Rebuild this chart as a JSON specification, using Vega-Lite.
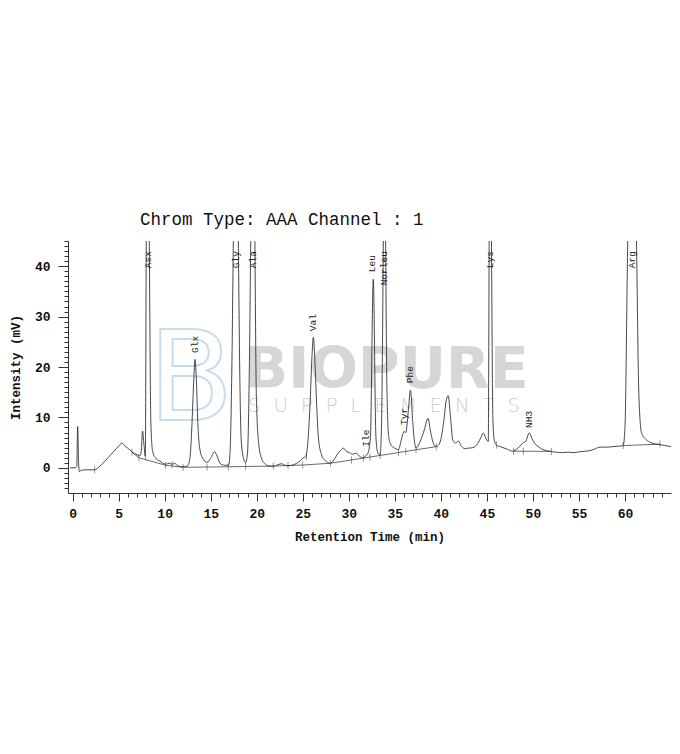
{
  "$schema": "https://vega.github.io/schema/vega-lite/v6.json",
  "width": 603,
  "height": 252,
  "autosize": {"type": "none"},
  "padding": {"left": 68, "top": 241, "right": 9, "bottom": 261},
  "background": "white",
  "title": {
    "text": "Chrom Type: AAA Channel : 1",
    "anchor": "start",
    "frame": "group",
    "dx": 72,
    "offset": 12,
    "font": "Liberation Mono",
    "fontSize": 17.5,
    "fontWeight": "normal",
    "color": "#111111"
  },
  "config": {
    "view": {"stroke": null},
    "axis": {"grid": false}
  },
  "datasets": {
    "trace": [
      {"t": -0.3, "v": 0.0}, {"t": 0.3, "v": 0.0}, {"t": 0.45, "v": 0.3}, {"t": 0.55, "v": 8.2}, {"t": 0.65, "v": 1.0},
      {"t": 0.75, "v": -0.8}, {"t": 0.9, "v": -0.5}, {"t": 1.5, "v": -0.4}, {"t": 2.4, "v": -0.4}, {"t": 3.0, "v": 0.4},
      {"t": 3.5, "v": 1.3}, {"t": 4.0, "v": 2.3}, {"t": 4.5, "v": 3.3}, {"t": 5.0, "v": 4.3}, {"t": 5.35, "v": 4.9},
      {"t": 5.7, "v": 4.3}, {"t": 6.2, "v": 3.6}, {"t": 6.5, "v": 3.1}, {"t": 7.0, "v": 2.6}, {"t": 7.3, "v": 2.4},
      {"t": 7.45, "v": 3.2}, {"t": 7.6, "v": 7.3}, {"t": 7.75, "v": 4.6}, {"t": 7.9, "v": 2.3}, {"t": 8.0, "v": 45},
      {"t": 8.17, "v": 80}, {"t": 8.33, "v": 45}, {"t": 8.5, "v": 9}, {"t": 8.7, "v": 3.2}, {"t": 9.0, "v": 2.0},
      {"t": 9.5, "v": 1.3}, {"t": 10.1, "v": 0.7}, {"t": 10.5, "v": 0.9}, {"t": 10.8, "v": 0.7}, {"t": 11.1, "v": 0.9},
      {"t": 11.4, "v": 0.4}, {"t": 12.0, "v": 0.2}, {"t": 12.5, "v": 0.4}, {"t": 12.75, "v": 2.0}, {"t": 12.95, "v": 8.0},
      {"t": 13.15, "v": 17.0}, {"t": 13.3, "v": 21.5}, {"t": 13.45, "v": 17.0}, {"t": 13.6, "v": 9.0}, {"t": 13.8, "v": 4.0},
      {"t": 14.1, "v": 2.0}, {"t": 14.6, "v": 1.1}, {"t": 15.0, "v": 1.9}, {"t": 15.4, "v": 3.2}, {"t": 15.7, "v": 2.3},
      {"t": 16.0, "v": 0.9}, {"t": 16.5, "v": 0.5}, {"t": 16.95, "v": 0.5}, {"t": 17.1, "v": 3}, {"t": 17.3, "v": 20},
      {"t": 17.46, "v": 45}, {"t": 17.73, "v": 80}, {"t": 18.0, "v": 45}, {"t": 18.15, "v": 20}, {"t": 18.3, "v": 6},
      {"t": 18.55, "v": 2}, {"t": 18.8, "v": 1.0}, {"t": 19.0, "v": 3}, {"t": 19.2, "v": 20}, {"t": 19.35, "v": 45},
      {"t": 19.57, "v": 80}, {"t": 19.8, "v": 45}, {"t": 19.95, "v": 15}, {"t": 20.2, "v": 5}, {"t": 20.5, "v": 2},
      {"t": 20.9, "v": 0.8}, {"t": 21.2, "v": 0.4}, {"t": 21.8, "v": 0.3}, {"t": 22.3, "v": 0.6}, {"t": 22.7, "v": 0.8},
      {"t": 23.1, "v": 0.5}, {"t": 23.4, "v": 0.4}, {"t": 24.0, "v": 0.6}, {"t": 24.6, "v": 1.2}, {"t": 25.0, "v": 1.9},
      {"t": 25.3, "v": 2.2}, {"t": 25.55, "v": 5}, {"t": 25.8, "v": 13}, {"t": 26.0, "v": 22}, {"t": 26.15, "v": 25.9},
      {"t": 26.3, "v": 22}, {"t": 26.5, "v": 13}, {"t": 26.7, "v": 6}, {"t": 27.0, "v": 2.8}, {"t": 27.4, "v": 1.5},
      {"t": 28.0, "v": 0.9}, {"t": 28.4, "v": 1.6}, {"t": 28.8, "v": 2.8}, {"t": 29.2, "v": 3.6}, {"t": 29.4, "v": 3.9},
      {"t": 29.8, "v": 3.2}, {"t": 30.1, "v": 3.0}, {"t": 30.4, "v": 2.7}, {"t": 30.8, "v": 2.9}, {"t": 31.1, "v": 2.4},
      {"t": 31.5, "v": 2.0}, {"t": 31.8, "v": 2.3}, {"t": 32.1, "v": 3.0}, {"t": 32.35, "v": 6}, {"t": 32.66, "v": 37.4},
      {"t": 32.95, "v": 6}, {"t": 33.15, "v": 3.0}, {"t": 33.4, "v": 2.5}, {"t": 33.55, "v": 8}, {"t": 33.75, "v": 45},
      {"t": 33.87, "v": 80}, {"t": 34.0, "v": 45}, {"t": 34.15, "v": 15}, {"t": 34.35, "v": 6}, {"t": 34.6, "v": 4.5},
      {"t": 34.9, "v": 4.0}, {"t": 35.4, "v": 3.6}, {"t": 35.7, "v": 5.5}, {"t": 36.0, "v": 7.2}, {"t": 36.2, "v": 7.0},
      {"t": 36.45, "v": 11}, {"t": 36.7, "v": 15.4}, {"t": 36.95, "v": 9}, {"t": 37.15, "v": 5}, {"t": 37.3, "v": 3.9},
      {"t": 37.7, "v": 5.0}, {"t": 38.2, "v": 7.5}, {"t": 38.6, "v": 9.8}, {"t": 38.9, "v": 7.0}, {"t": 39.2, "v": 4.8},
      {"t": 39.5, "v": 4.2}, {"t": 39.9, "v": 5.0}, {"t": 40.3, "v": 9}, {"t": 40.6, "v": 13.5}, {"t": 40.8, "v": 14.3},
      {"t": 41.05, "v": 10}, {"t": 41.3, "v": 5.5}, {"t": 41.6, "v": 4.9}, {"t": 41.9, "v": 5.3}, {"t": 42.2, "v": 4.4},
      {"t": 42.6, "v": 3.8}, {"t": 43.0, "v": 3.9}, {"t": 43.5, "v": 4.0}, {"t": 44.0, "v": 4.8}, {"t": 44.35, "v": 6.0},
      {"t": 44.6, "v": 6.9}, {"t": 44.9, "v": 5.8}, {"t": 45.15, "v": 5.2}, {"t": 45.25, "v": 45}, {"t": 45.38, "v": 80},
      {"t": 45.5, "v": 45}, {"t": 45.65, "v": 10}, {"t": 45.8, "v": 5.5}, {"t": 46.05, "v": 4.5}, {"t": 46.6, "v": 4.1},
      {"t": 47.2, "v": 3.7}, {"t": 47.8, "v": 3.3}, {"t": 48.3, "v": 3.8}, {"t": 48.7, "v": 4.5}, {"t": 48.95, "v": 5.0},
      {"t": 49.2, "v": 5.2}, {"t": 49.6, "v": 6.9}, {"t": 49.9, "v": 5.8}, {"t": 50.3, "v": 4.6}, {"t": 50.6, "v": 4.2},
      {"t": 51.0, "v": 3.7}, {"t": 51.5, "v": 3.4}, {"t": 52.0, "v": 3.2}, {"t": 52.6, "v": 3.1}, {"t": 53.2, "v": 3.0},
      {"t": 53.8, "v": 3.1}, {"t": 54.4, "v": 3.0}, {"t": 55.1, "v": 3.2}, {"t": 55.7, "v": 3.3}, {"t": 56.2, "v": 3.4},
      {"t": 56.8, "v": 3.8}, {"t": 57.3, "v": 4.1}, {"t": 58.0, "v": 4.1}, {"t": 58.7, "v": 4.2}, {"t": 59.3, "v": 4.3},
      {"t": 59.8, "v": 4.4}, {"t": 60.0, "v": 8}, {"t": 60.3, "v": 45}, {"t": 60.77, "v": 80}, {"t": 61.25, "v": 45},
      {"t": 61.5, "v": 15}, {"t": 61.8, "v": 6.9}, {"t": 62.3, "v": 5.6}, {"t": 62.8, "v": 5.0}, {"t": 63.3, "v": 4.7},
      {"t": 63.8, "v": 4.6}, {"t": 64.4, "v": 4.4}, {"t": 65.0, "v": 4.2}
    ],
    "base": [
      {"seg": 1, "t": 6.45, "v": 3.1}, {"seg": 1, "t": 7.2, "v": 2.0}, {"seg": 1, "t": 10.1, "v": 0.5},
      {"seg": 1, "t": 12.0, "v": 0.1}, {"seg": 1, "t": 16.9, "v": 0.2}, {"seg": 1, "t": 21.8, "v": 0.35},
      {"seg": 1, "t": 25.0, "v": 0.55}, {"seg": 1, "t": 28.0, "v": 0.9}, {"seg": 1, "t": 33.4, "v": 2.45},
      {"seg": 1, "t": 39.5, "v": 4.2},
      {"seg": 2, "t": 47.9, "v": 3.3}, {"seg": 2, "t": 52.0, "v": 3.25},
      {"seg": 3, "t": 59.8, "v": 4.4}, {"seg": 3, "t": 63.8, "v": 4.7}
    ],
    "bounds": [
      {"t": 2.4, "v": -0.4}, {"t": 6.45, "v": 3.1}, {"t": 7.2, "v": 2.0}, {"t": 7.9, "v": 2.2}, {"t": 10.1, "v": 0.5},
      {"t": 10.8, "v": 0.6}, {"t": 12.0, "v": 0.1}, {"t": 14.6, "v": 0.15}, {"t": 16.9, "v": 0.2}, {"t": 18.8, "v": 0.3},
      {"t": 21.8, "v": 0.35}, {"t": 23.4, "v": 0.45}, {"t": 25.0, "v": 0.55}, {"t": 25.4, "v": 2.2}, {"t": 28.0, "v": 0.9},
      {"t": 30.3, "v": 1.55}, {"t": 31.6, "v": 1.95}, {"t": 32.3, "v": 2.15}, {"t": 33.4, "v": 2.45}, {"t": 35.4, "v": 3.0},
      {"t": 36.2, "v": 3.25}, {"t": 37.3, "v": 3.55}, {"t": 39.5, "v": 4.2}, {"t": 46.05, "v": 4.5}, {"t": 47.9, "v": 3.3},
      {"t": 48.95, "v": 3.3}, {"t": 52.0, "v": 3.25}, {"t": 59.8, "v": 4.4}, {"t": 63.8, "v": 4.7}
    ],
    "peaks": [
      {"name": "Asx", "t": 8.2, "v": 39.6},
      {"name": "Glx", "t": 13.3, "v": 22.8},
      {"name": "Gly", "t": 17.75, "v": 39.6},
      {"name": "Ala", "t": 19.57, "v": 39.6},
      {"name": "Val", "t": 26.1, "v": 27.1},
      {"name": "Ile", "t": 31.87, "v": 4.2},
      {"name": "Leu", "t": 32.5, "v": 38.8},
      {"name": "Norleu", "t": 33.8, "v": 36.2},
      {"name": "Tyr", "t": 36.0, "v": 8.5},
      {"name": "Phe", "t": 36.65, "v": 16.8},
      {"name": "Lys", "t": 45.3, "v": 39.6},
      {"name": "NH3", "t": 49.57, "v": 7.9},
      {"name": "Arg", "t": 60.75, "v": 39.6}
    ]
  },
  "resolve": {"axis": {"x": "independent", "y": "independent"}},
  "layer": [
    {
      "data": {"values": [{}]},
      "mark": {"type": "text", "text": "B", "font": "DejaVu Sans", "fontSize": 125, "align": "left", "baseline": "alphabetic", "fill": "transparent", "stroke": "#c9dcec", "strokeWidth": 2},
      "encoding": {
        "x": {"datum": 8.2, "type": "quantitative", "scale": {"domain": [-0.5, 65], "nice": false, "zero": false}, "axis": null},
        "y": {"datum": 9.5, "type": "quantitative", "scale": {"domain": [-5, 45], "nice": false, "zero": false}, "axis": null}
      }
    },
    {
      "data": {"values": [{}]},
      "mark": {"type": "text", "text": "BIOPURE", "font": "DejaVu Sans", "fontWeight": "bold", "fontSize": 57, "align": "left", "baseline": "alphabetic", "color": "#d6d6d6"},
      "encoding": {
        "x": {"datum": 18.7, "type": "quantitative", "axis": null},
        "y": {"datum": 15.8, "type": "quantitative", "axis": null}
      }
    },
    {
      "data": {"values": [{}]},
      "mark": {"type": "text", "text": "S\u00a0\u00a0U\u00a0\u00a0P\u00a0\u00a0P\u00a0\u00a0L\u00a0\u00a0E\u00a0\u00a0M\u00a0\u00a0E\u00a0\u00a0N\u00a0\u00a0T\u00a0\u00a0S", "font": "DejaVu Sans", "fontWeight": 200, "fontSize": 20, "align": "left", "baseline": "alphabetic", "color": "#cfcfcf"},
      "encoding": {
        "x": {"datum": 19.05, "type": "quantitative", "axis": null},
        "y": {"datum": 11.1, "type": "quantitative", "axis": null}
      }
    },
    {
      "data": {"name": "base"},
      "mark": {"type": "line", "color": "#444444", "strokeWidth": 0.8, "clip": true},
      "encoding": {
        "x": {"field": "t", "type": "quantitative",
          "axis": {"orient": "bottom", "values": [0,1,2,3,4,5,6,7,8,9,10,11,12,13,14,15,16,17,18,19,20,21,22,23,24,25,26,27,28,29,30,31,32,33,34,35,36,37,38,39,40,41,42,43,44,45,46,47,48,49,50,51,52,53,54,55,56,57,58,59,60,61,62,63,64],
            "labels": false, "domain": false, "title": null, "tickSize": 4, "tickColor": "#333333", "tickWidth": 1}},
        "y": {"field": "v", "type": "quantitative",
          "axis": {"orient": "left", "values": [-4,-3,-2,-1,1,2,3,4,5,6,7,8,9,11,12,13,14,15,16,17,18,19,21,22,23,24,25,26,27,28,29,31,32,33,34,35,36,37,38,39,41,42,43,44,45],
            "labels": false, "domain": false, "title": null, "tickSize": 4, "tickColor": "#333333", "tickWidth": 1}},
        "detail": {"field": "seg", "type": "nominal"}
      }
    },
    {
      "data": {"name": "bounds"},
      "mark": {"type": "tick", "orient": "vertical", "size": 7, "thickness": 0.8, "color": "#444444"},
      "encoding": {
        "x": {"field": "t", "type": "quantitative", "axis": null},
        "y": {"field": "v", "type": "quantitative", "axis": null}
      }
    },
    {
      "data": {"name": "trace"},
      "mark": {"type": "line", "color": "#333333", "strokeWidth": 0.9, "clip": true, "interpolate": "monotone"},
      "encoding": {
        "x": {"field": "t", "type": "quantitative",
          "axis": {"orient": "bottom", "values": [0,5,10,15,20,25,30,35,40,45,50,55,60],
            "title": "Retention Time (min)", "titleFont": "Liberation Mono", "titleFontWeight": "bold", "titleFontSize": 12.5, "titleColor": "#111111", "titlePadding": 10,
            "labelFont": "Liberation Mono", "labelFontWeight": "bold", "labelFontSize": 13, "labelColor": "#111111", "labelPadding": 6,
            "tickSize": 8, "tickColor": "#333333", "domainColor": "#333333", "domainWidth": 1}},
        "y": {"field": "v", "type": "quantitative",
          "axis": {"orient": "left", "values": [0,10,20,30,40],
            "title": "Intensity (mV)", "titleFont": "Liberation Mono", "titleFontWeight": "bold", "titleFontSize": 12.5, "titleColor": "#111111", "titlePadding": 12,
            "labelFont": "Liberation Mono", "labelFontWeight": "bold", "labelFontSize": 13, "labelColor": "#111111", "labelPadding": 8,
            "tickSize": 10, "tickColor": "#333333", "domainColor": "#333333", "domainWidth": 1}}
      }
    },
    {
      "data": {"name": "peaks"},
      "mark": {"type": "text", "angle": 270, "align": "left", "baseline": "middle", "font": "Liberation Mono", "fontSize": 9.5, "color": "#222222"},
      "encoding": {
        "x": {"field": "t", "type": "quantitative", "axis": null},
        "y": {"field": "v", "type": "quantitative", "axis": null},
        "text": {"field": "name", "type": "nominal"}
      }
    }
  ]
}
